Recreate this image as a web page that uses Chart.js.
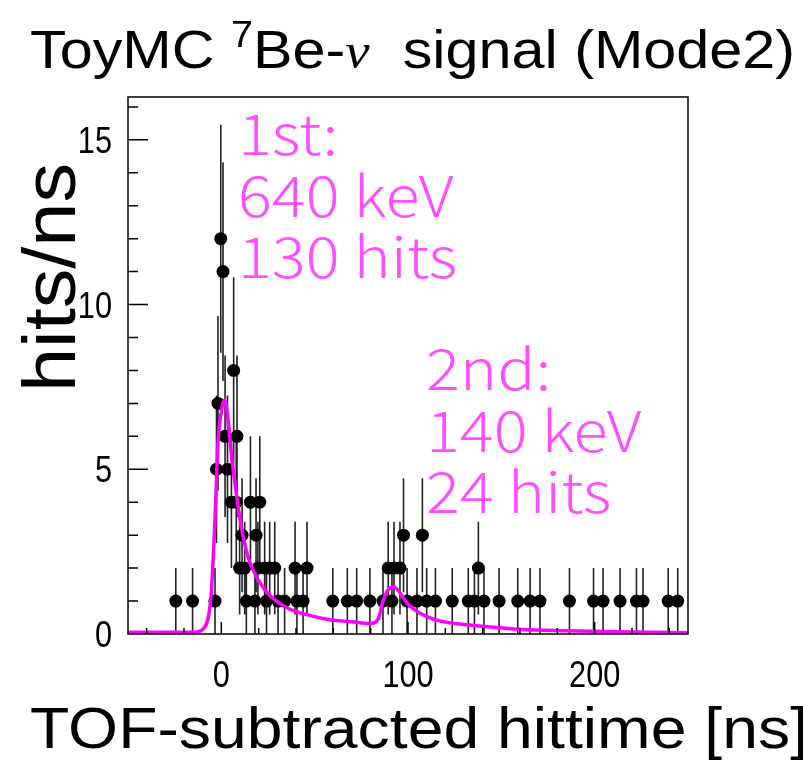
<!DOCTYPE html>
<html lang="en">
<head>
<meta charset="UTF-8">
<title>ToyMC 7Be-nu signal (Mode2)</title>
<script src="https://cdn.jsdelivr.net/npm/chart.js"></script>
<style>
  html, body { margin: 0; padding: 0; background: #fff; }
  #wrap { width: 803px; height: 765px; }
</style>
</head>
<body>
<div id="wrap"><canvas id="c" width="803" height="765"></canvas></div>
<script>
// binned hits: bin centre [ns], hits/ns, error bar half length
var hitTime = [-24.4, -15.4, -3.4, -2.6, -1.8, -0.3, 0.9, 2.0, 3.3, 5.4,
               6.6, 8.0, 8.4, 9.8, 11.1, 12.5, 13.4, 15.6, 18.0, 18.6,
               19.6, 20.6, 23.2, 24.2, 25.9, 28.6, 30.4, 33.9, 39.5, 40.5,
               43.8, 45.9, 59.7, 67.5, 72.5, 79.6, 86.6, 89.4, 91.4, 92.5,
               95.7, 97.6, 99.5, 104.8, 107.7, 110.0, 114.7, 123.7, 132.3, 135.6,
               137.7, 140.7, 148.8, 158.8, 165.4, 170.7, 186.5, 199.4, 204.5, 213.6,
               222.4, 225.9, 239.4, 244.5];
var hitCount = [1, 1, 1, 5, 7, 12, 11, 6, 5, 4,
                8, 4, 6, 2, 3, 2, 1, 4, 1, 3,
                2, 4, 2, 1, 2, 2, 1, 1, 2, 1,
                1, 2, 1, 1, 1, 1, 1, 2, 1, 2,
                2, 3, 1, 1, 3, 1, 1, 1, 1, 1,
                2, 1, 1, 1, 1, 1, 1, 1, 1, 1,
                1, 1, 1, 1];
var hitErr = [1, 1, 1, 2.24, 2.65, 3.46, 3.32, 2.45, 2.24, 2,
              2.83, 2, 2.45, 1.41, 1.73, 1.41, 1, 2, 1, 1.73,
              1.41, 2, 1.41, 1, 1.41, 1.41, 1, 1, 1.41, 1,
              1, 1.41, 1, 1, 1, 1, 1, 1.41, 1, 1.41,
              1.41, 1.73, 1, 1, 1.73, 1, 1, 1, 1, 1,
              1.41, 1, 1, 1, 1, 1, 1, 1, 1, 1,
              1, 1, 1, 1];

// fitted response curve
var fitTime = [-50, -20, -12.5, -9, -7.1, -5.4, -3.2, -1.8, 0.5, 1.8,
               3.2, 5.3, 8.0, 10.7, 14.3, 17.9, 25, 35.7, 46.4, 57.1,
               70, 79.6, 84.1, 86.8, 89.5, 92.5, 95.7, 99.6, 106.4, 115.4,
               133.2, 149.3, 160, 185, 220, 250];
var fitValue = [0.05, 0.05, 0.07, 0.2, 0.48, 1.24, 3.76, 5.8, 6.9, 7.1,
                6.7, 5.5, 4.27, 3.25, 2.34, 1.84, 1.23, 0.78, 0.58, 0.44,
                0.37, 0.32, 0.47, 1.03, 1.35, 1.43, 1.25, 0.93, 0.63, 0.42,
                0.27, 0.19, 0.14, 0.10, 0.06, 0.04];

var xTicks = [0, 100, 200];
var yTicks = [0, 5, 10, 15];
var firstNote = ['1st:', '640 keV', '130 hits'];
var secondNote = ['2nd:', '140 keV', '24 hits'];

var tickFont = '37px "Liberation Sans", Arial, sans-serif';

// draw text squeezed/stretched to a given width
function fitText(ctx, text, x, y, width) {
    var w = ctx.measureText(text).width;
    ctx.save();
    ctx.translate(x, y);
    ctx.scale(width / w, 1);
    ctx.fillText(text, 0, 0);
    ctx.restore();
}

// draw text with a fixed horizontal squeeze
function squeezeText(ctx, text, x, y, sx, align) {
    var w = ctx.measureText(text).width * sx;
    var x0 = align === 'right' ? x - w : align === 'center' ? x - w / 2 : x;
    ctx.save();
    ctx.translate(x0, y);
    ctx.scale(sx, 1);
    ctx.fillText(text, 0, 0);
    ctx.restore();
}

var errorBars = {
    id: 'errorBars',
    beforeDatasetsDraw: function(chart) {
        var ctx = chart.ctx, xs = chart.scales.x, ys = chart.scales.y;
        ctx.save();
        ctx.strokeStyle = '#222';
        ctx.lineWidth = 1.6;
        ctx.beginPath();
        for (var i = 0; i < hitTime.length; i++) {
            var px = xs.getPixelForValue(hitTime[i]);
            ctx.moveTo(px, ys.getPixelForValue(Math.max(0, hitCount[i] - hitErr[i])));
            ctx.lineTo(px, ys.getPixelForValue(hitCount[i] + hitErr[i]));
        }
        ctx.stroke();
        ctx.restore();
    }
};

var frame = {
    id: 'frame',
    afterDatasetsDraw: function(chart) {
        var ctx = chart.ctx, a = chart.chartArea, xs = chart.scales.x, ys = chart.scales.y;
        ctx.save();
        ctx.strokeStyle = '#000';
        ctx.lineWidth = 1.5;
        ctx.strokeRect(a.left, a.top, a.right - a.left, a.bottom - a.top);
        ctx.beginPath();
        for (var v = 1; v <= ys.max; v++) {
            var py = ys.getPixelForValue(v);
            ctx.moveTo(a.left, py);
            ctx.lineTo(a.left + (v % 5 === 0 ? 20 : 10), py);
        }
        for (var t = -40; t <= xs.max; t += 20) {
            var px = xs.getPixelForValue(t);
            ctx.moveTo(px, a.bottom);
            ctx.lineTo(px, a.bottom - (t % 100 === 0 ? 12 : 6));
        }
        ctx.stroke();

        // tick labels, narrow like the original
        ctx.fillStyle = '#000';
        ctx.font = tickFont;
        ctx.textBaseline = 'alphabetic';
        xs.ticks.forEach(function(tk) {
            squeezeText(ctx, String(tk.value), xs.getPixelForValue(tk.value), a.bottom + 53, 0.83, 'center');
        });
        ys.ticks.forEach(function(tk) {
            squeezeText(ctx, String(tk.value), a.left - 16, ys.getPixelForValue(tk.value) + 13, 0.83, 'right');
        });
        ctx.restore();
    }
};

var labels = {
    id: 'labels',
    afterDraw: function(chart) {
        var ctx = chart.ctx;
        ctx.save();
        ctx.fillStyle = '#000';
        ctx.textBaseline = 'alphabetic';
        ctx.textAlign = 'left';

        // title, with superscript 7 and italic nu
        var parts = [
            { t: 'ToyMC ', f: '54px "Liberation Sans"', dy: 0 },
            { t: '7', f: '36px "Liberation Sans"', dy: -21 },
            { t: 'Be-', f: '54px "Liberation Sans"', dy: 0 },
            { t: '\u03bd', f: 'italic 50px "Liberation Serif"', dy: 0 },
            { t: '  signal (Mode2)', f: '54px "Liberation Sans"', dy: 0 }
        ];
        var total = 0;
        parts.forEach(function(p) { ctx.font = p.f; p.w = ctx.measureText(p.t).width; total += p.w; });
        ctx.save();
        ctx.translate(30, 68);
        ctx.scale(765 / total, 1);
        var cx = 0;
        parts.forEach(function(p) { ctx.font = p.f; ctx.fillText(p.t, cx, p.dy); cx += p.w; });
        ctx.restore();

        // x axis title
        ctx.font = '57px "Liberation Sans"';
        fitText(ctx, 'TOF-subtracted hittime [ns]', 30, 748, 778);

        // y axis title
        ctx.save();
        ctx.translate(75, 392);
        ctx.rotate(-Math.PI / 2);
        ctx.font = '74px "Liberation Sans"';
        fitText(ctx, 'hits/ns', 0, 0, 229);
        ctx.restore();

        // peak notes
        ctx.fillStyle = '#ff4dff';
        ctx.font = '300 56px "Noto Sans CJK JP", "Noto Sans", sans-serif';
        firstNote.forEach(function(s, i) { squeezeText(ctx, s, 238, 155 + i * 61.5, 1.13, 'left'); });
        secondNote.forEach(function(s, i) { squeezeText(ctx, s, 426, 390 + i * 61.5, 1.13, 'left'); });
        ctx.restore();
    }
};

var ctx = document.getElementById('c').getContext('2d');
var chart = new Chart(ctx, {
    type: 'scatter',
    data: {
        datasets: [{
            label: 'fit',
            data: fitTime.map(function(t, i) { return { x: t, y: fitValue[i] }; }),
            showLine: true,
            borderColor: '#ff00ff',
            borderWidth: 3.5,
            pointRadius: 0,
            cubicInterpolationMode: 'monotone',
            order: 0
        }, {
            label: 'hits',
            data: hitTime.map(function(t, i) { return { x: t, y: hitCount[i] }; }),
            backgroundColor: '#000',
            borderColor: '#000',
            pointRadius: 6.5,
            borderWidth: 0,
            order: 1
        }]
    },
    options: {
        responsive: false,
        animation: false,
        layout: { padding: { top: 97, right: 115, left: 0, bottom: 0 } },
        plugins: {
            legend: { display: false },
            tooltip: { enabled: false },
            title: { display: false }
        },
        scales: {
            x: {
                type: 'linear',
                min: -50,
                max: 250,
                afterBuildTicks: function(s) { s.ticks = xTicks.map(function(v) { return { value: v }; }); },
                afterFit: function(s) { s.height = 131; },
                grid: { display: false, drawTicks: false },
                border: { display: false },
                ticks: { display: false }
            },
            y: {
                min: 0,
                max: 16.3,
                afterBuildTicks: function(s) { s.ticks = yTicks.map(function(v) { return { value: v }; }); },
                afterFit: function(s) { s.width = 128; },
                grid: { display: false, drawTicks: false },
                border: { display: false },
                ticks: { display: false }
            }
        }
    },
    plugins: [errorBars, frame, labels]
});
</script>
</body>
</html>
